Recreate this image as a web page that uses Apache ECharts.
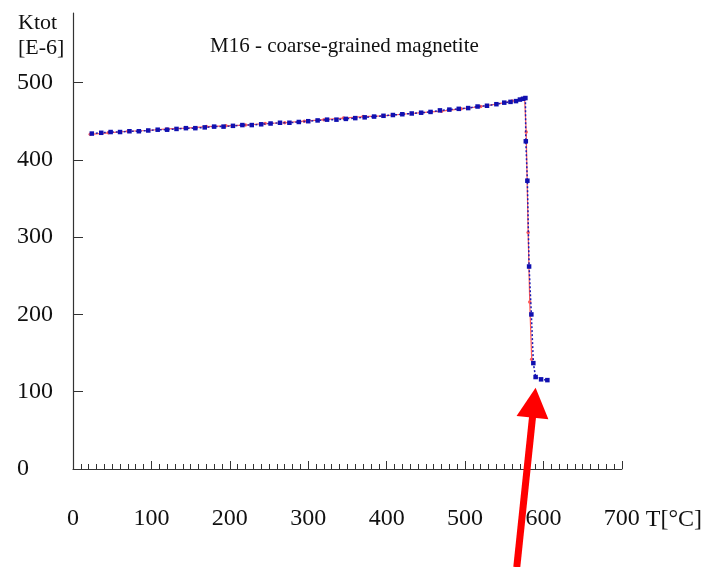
<!DOCTYPE html>
<html><head><meta charset="utf-8">
<script src="https://cdn.jsdelivr.net/npm/echarts@6/dist/echarts.min.js"></script>
<style>html,body{margin:0;padding:0;background:#fff}#c{width:705px;height:567px}</style>
</head><body><div id="c"></div>
<script>
const titleText = 'M16 - coarse-grained magnetite';
const yName = 'Ktot\n[E-6]';
const xName = 'T[\u00B0C]';
const xTicks = [0, 100, 200, 300, 400, 500, 600, 700];
const yTicks = [0, 100, 200, 300, 400, 500];

// blue curve (dotted line with square markers)
const blueT = [24, 36, 48, 60, 72, 84, 96, 108, 120, 132, 144, 156, 168, 180, 192, 204, 216, 228, 240, 252, 264, 276, 288, 300, 312, 324, 336, 348, 360, 372, 384, 396, 408, 420, 432, 444, 456, 468, 480, 492, 504, 516, 528, 540, 550, 558, 565, 570, 574, 577, 577.5, 579.5, 581.7, 584.6, 587.1, 590, 597, 605];
const blueK = [434, 435, 436, 436, 437, 437, 438, 439, 439, 440, 441, 441, 442, 443, 443, 444, 445, 445, 446, 447, 448, 448, 449, 450, 451, 452, 452, 453, 454, 455, 456, 457, 458, 459, 460, 461, 462, 464, 465, 466, 467, 469, 470, 472, 474, 475, 476, 478, 479, 480, 424, 373, 262, 200, 137, 119, 116, 115];

// red curve (thin solid line with small markers)
const redT = [22, 45, 70, 95, 120, 145, 170, 195, 220, 245, 270, 295, 320, 345, 370, 395, 420, 445, 470, 495, 520, 540, 560, 572, 576, 578, 580.5, 582.5, 585];
const redK = [433, 435, 437, 438, 440, 441, 443, 444, 445, 447, 448, 450, 452, 454, 456, 457, 459, 461, 463, 466, 469, 472, 476, 479, 480, 436, 306, 216, 142];

const arrowTail = [566, -127];
const arrowTip = [590, 105];

const serif = 'Liberation Serif';
const chart = echarts.init(document.getElementById('c'));
const zip = (a, b) => a.map((v, i) => [v, b[i]]);

chart.setOption({
  animation: false,
  backgroundColor: '#ffffff',
  title: [
    { text: titleText, left: 205, top: 31, textStyle: { fontFamily: serif, fontSize: 21, fontWeight: 'normal', color: '#111' } },
    { text: yName, left: 13, top: 6, textStyle: { fontFamily: serif, fontSize: 22, fontWeight: 'normal', color: '#111', lineHeight: 25 } }
  ],
  grid: { left: 73, right: 80, top: 13, bottom: 98, containLabel: false },
  xAxis: {
    type: 'value', min: 0, max: 700, interval: 100,
    name: '\n\n\n' + xName, nameLocation: 'end', nameGap: 20,
    nameTextStyle: { fontFamily: serif, fontSize: 24, color: '#111', align: 'left', verticalAlign: 'middle', lineHeight: 34 },
    axisLine: { show: true, lineStyle: { color: '#333', width: 1.2 } },
    axisTick: { show: true, inside: true, length: 8, lineStyle: { color: '#333' } },
    minorTick: { show: true, splitNumber: 10, length: 5, lineStyle: { color: '#333' } },
    axisLabel: { fontFamily: serif, fontSize: 24, color: '#111', margin: 38 },
    splitLine: { show: false }
  },
  yAxis: {
    type: 'value', min: 0, max: 590,
    axisLine: { show: true, lineStyle: { color: '#333', width: 1.2 } },
    axisTick: { show: true, inside: true, length: 10, customValues: yTicks, lineStyle: { color: '#333' } },
    axisLabel: { fontFamily: serif, fontSize: 24, color: '#111', align: 'left', margin: 56, customValues: yTicks },
    splitLine: { show: false }
  },
  series: [
    {
      type: 'line', data: zip(redT, redK), symbol: 'circle', symbolSize: 3.5,
      lineStyle: { color: '#ff5a5a', width: 1.2 }, itemStyle: { color: '#ff5a5a' }, z: 2
    },
    {
      type: 'line', data: zip(blueT, blueK), symbol: 'rect', symbolSize: 4.5,
      lineStyle: { color: '#1a1ab4', width: 1.5, type: [2, 2] }, itemStyle: { color: '#1010b0' }, z: 3
    }
  ]
});

// red arrow annotation, positioned from data coordinates
const tail = chart.convertToPixel({ gridIndex: 0 }, arrowTail);
const tip = chart.convertToPixel({ gridIndex: 0 }, arrowTip);
const dx = tip[0] - tail[0], dy = tip[1] - tail[1];
const len = Math.sqrt(dx * dx + dy * dy);
const ux = dx / len, uy = dy / len, px = -uy, py = ux;
const headLen = 30, headW = 16;
const base = [tip[0] - ux * headLen, tip[1] - uy * headLen];
chart.setOption({
  graphic: [
    { type: 'line', shape: { x1: tail[0], y1: tail[1], x2: base[0] + ux * 2, y2: base[1] + uy * 2 }, style: { stroke: '#ff0000', lineWidth: 7 }, z: 100 },
    { type: 'polygon', shape: { points: [tip, [base[0] + px * headW, base[1] + py * headW], [base[0] - px * headW, base[1] - py * headW]] }, style: { fill: '#ff0000' }, z: 100 }
  ]
});
</script>
</body></html>
